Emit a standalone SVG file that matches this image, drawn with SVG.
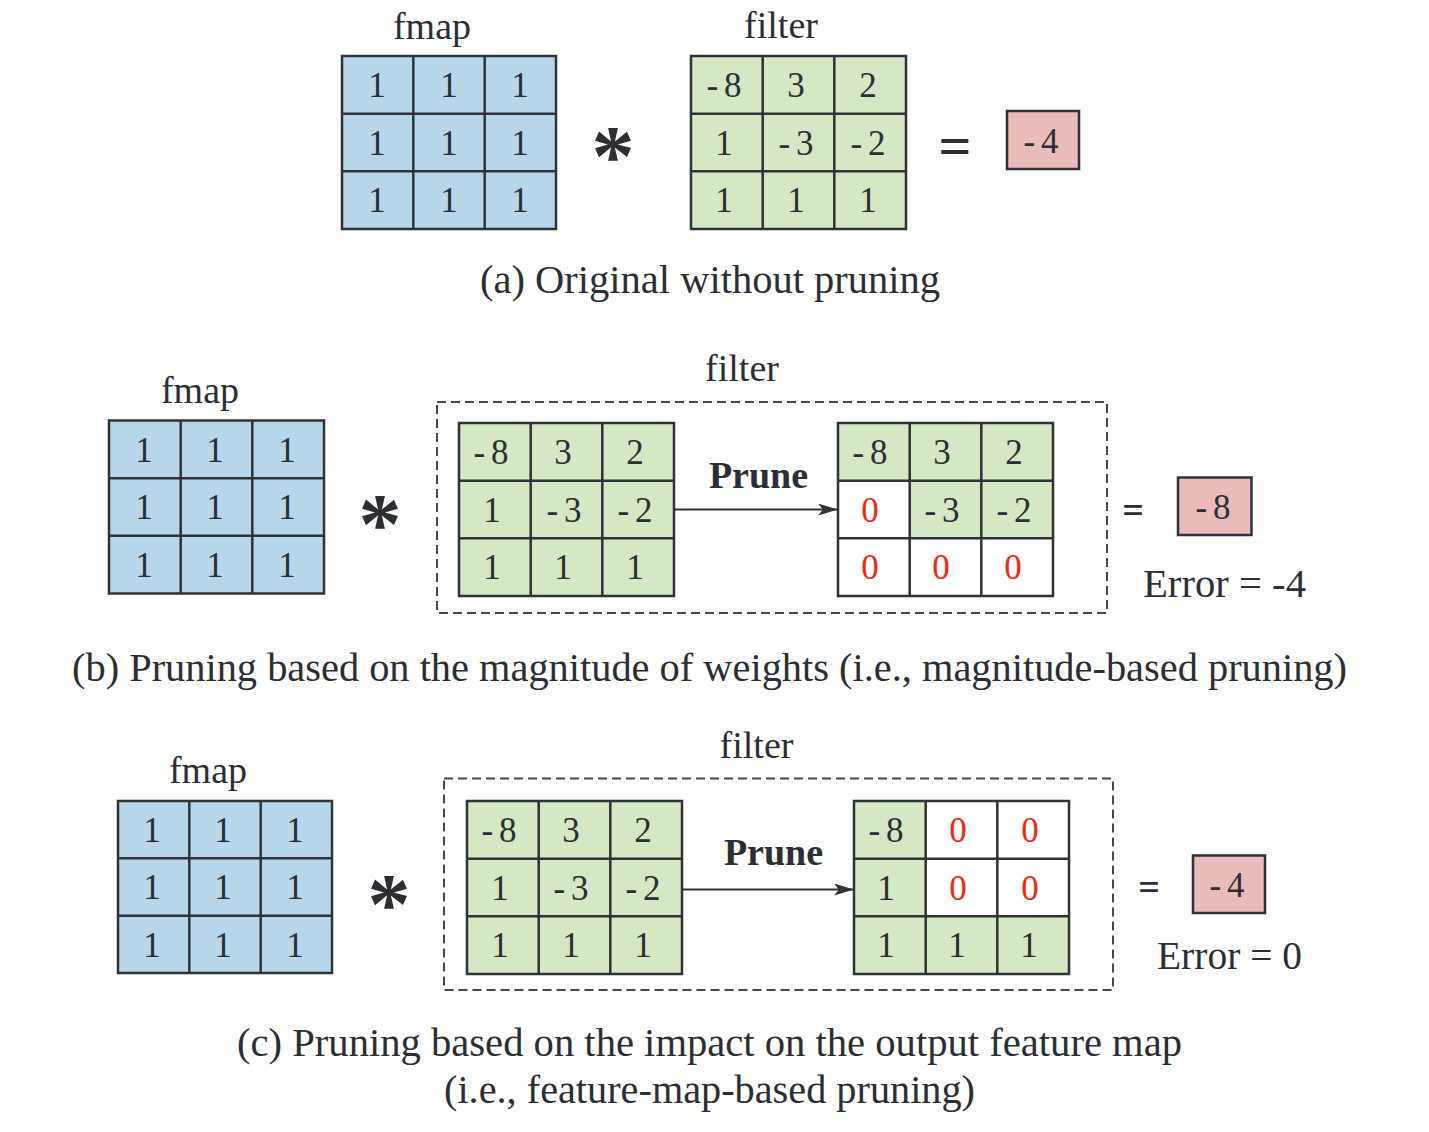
<svg xmlns="http://www.w3.org/2000/svg" width="1429" height="1132" viewBox="0 0 1429 1132">
<style>
text{font-family:"Liberation Serif","Times New Roman",serif;fill:#2b2e33}
.n{font-size:35px;text-anchor:middle}
.z{fill:#f5250f}
.lbl{font-size:38px;text-anchor:middle}
.cap{font-size:40px;text-anchor:middle}
.prune{font-size:38px;font-weight:bold;text-anchor:middle}
.err{font-size:39px}
.ast{font-size:86px;font-weight:bold;text-anchor:middle}
.eq{font-weight:bold;text-anchor:middle}
.b{fill:#b8d6ea}
.g{fill:#d5e7c4}
.w{fill:#ffffff}
.p{fill:#eabbbb}
.grid{fill:none;stroke:#2f3236;stroke-width:2.5}
.dash{fill:none;stroke:#45484c;stroke-width:2;stroke-dasharray:9 5}
.conn{stroke:#2f3236;stroke-width:2;fill:none}
</style>
<defs>
<marker id="ah" viewBox="0 0 20 12" refX="19" refY="6" markerWidth="20" markerHeight="12" markerUnits="userSpaceOnUse" orient="auto">
<path d="M0,0 L20,6 L0,12 L5,6 z" fill="#2f3236"/>
</marker>
</defs>

<!-- (a) -->
<g id="a-fmap">
<text class="lbl" x="432" y="39">fmap</text>
<rect class="b" x="342" y="56" width="214" height="173"/>
<path class="grid" d="M342,56h214v173h-214z M413.3,56v173 M484.7,56v173 M342,113.7h214 M342,171.3h214"/>
<text class="n" x="377" y="97">1</text><text class="n" x="449" y="97">1</text><text class="n" x="520" y="97">1</text>
<text class="n" x="377" y="155">1</text><text class="n" x="449" y="155">1</text><text class="n" x="520" y="155">1</text>
<text class="n" x="377" y="212">1</text><text class="n" x="449" y="212">1</text><text class="n" x="520" y="212">1</text>
</g>
<g id="a-op"><text class="ast" x="613" y="185">*</text></g>
<g id="a-filter">
<text class="lbl" x="781" y="38">filter</text>
<rect class="g" x="691" y="56" width="215" height="173"/>
<path class="grid" d="M691,56h215v173h-215z M762.7,56v173 M834.3,56v173 M691,113.7h215 M691,171.3h215"/>
<text class="n" x="724" y="97">-<tspan dx="6">8</tspan></text><text class="n" x="796" y="97">3</text><text class="n" x="868" y="97">2</text>
<text class="n" x="724" y="155">1</text><text class="n" x="796" y="155">-<tspan dx="6">3</tspan></text><text class="n" x="868" y="155">-<tspan dx="6">2</tspan></text>
<text class="n" x="724" y="212">1</text><text class="n" x="796" y="212">1</text><text class="n" x="868" y="212">1</text>
</g>
<g id="a-eq"><text class="eq" style="font-size:58px" x="955" y="165">=</text></g>
<g id="a-result">
<rect class="p" x="1007" y="111" width="72" height="58" stroke="#2f3236" stroke-width="2.5"/>
<text class="n" x="1041" y="153">-<tspan dx="6">4</tspan></text>
</g>
<text class="cap" x="710" y="293" textLength="460" lengthAdjust="spacingAndGlyphs">(a) Original without pruning</text>

<!-- (b) -->
<g id="b-fmap">
<text class="lbl" x="200" y="403">fmap</text>
<rect class="b" x="109" y="420.5" width="215" height="173"/>
<path class="grid" d="M109,420.5h215v173h-215z M180.7,420.5v173 M252.3,420.5v173 M109,478.2h215 M109,535.8h215"/>
<text class="n" x="144" y="462">1</text><text class="n" x="215" y="462">1</text><text class="n" x="287" y="462">1</text>
<text class="n" x="144" y="519">1</text><text class="n" x="215" y="519">1</text><text class="n" x="287" y="519">1</text>
<text class="n" x="144" y="577">1</text><text class="n" x="215" y="577">1</text><text class="n" x="287" y="577">1</text>
</g>
<g id="b-op"><text class="ast" x="380" y="553">*</text></g>
<g id="b-filter-box">
<text class="lbl" x="742" y="381">filter</text>
<rect class="dash" x="437" y="402" width="670" height="211"/>
</g>
<g id="b-filter">
<rect class="g" x="459" y="423" width="215" height="173"/>
<path class="grid" d="M459,423h215v173h-215z M530.7,423v173 M602.3,423v173 M459,480.7h215 M459,538.3h215"/>
<text class="n" x="491" y="464">-<tspan dx="6">8</tspan></text><text class="n" x="563" y="464">3</text><text class="n" x="635" y="464">2</text>
<text class="n" x="492" y="522">1</text><text class="n" x="564" y="522">-<tspan dx="6">3</tspan></text><text class="n" x="635" y="522">-<tspan dx="6">2</tspan></text>
<text class="n" x="492" y="579">1</text><text class="n" x="563" y="579">1</text><text class="n" x="635" y="579">1</text>
</g>
<g id="b-pruned">
<rect class="g" x="838" y="423" width="215" height="173"/>
<rect class="w" x="838" y="480.7" width="71.7" height="57.6"/>
<rect class="w" x="838" y="538.3" width="215" height="57.7"/>
<path class="grid" d="M838,423h215v173h-215z M909.7,423v173 M981.3,423v173 M838,480.7h215 M838,538.3h215"/>
<text class="n" x="870" y="464">-<tspan dx="6">8</tspan></text><text class="n" x="942" y="464">3</text><text class="n" x="1014" y="464">2</text>
<text class="n z" x="870" y="522">0</text><text class="n" x="942" y="522">-<tspan dx="6">3</tspan></text><text class="n" x="1014" y="522">-<tspan dx="6">2</tspan></text>
<text class="n z" x="870" y="579">0</text><text class="n z" x="941" y="579">0</text><text class="n z" x="1013" y="579">0</text>
</g>
<g id="b-eq"><text class="eq" style="font-size:38px" x="1133" y="523">=</text></g>
<g id="b-result">
<rect class="p" x="1178" y="477.5" width="73.5" height="57.5" stroke="#2f3236" stroke-width="2.5"/>
<text class="n" x="1213" y="519">-<tspan dx="6">8</tspan></text>
<text class="err" x="1143" y="597" textLength="163" lengthAdjust="spacingAndGlyphs">Error = -4</text>
</g>
<text class="cap" x="709.5" y="681" textLength="1275" lengthAdjust="spacingAndGlyphs">(b) Pruning based on the magnitude of weights (i.e., magnitude-based pruning)</text>

<!-- (c) -->
<g id="c-fmap">
<text class="lbl" x="208" y="783">fmap</text>
<rect class="b" x="118" y="801" width="214" height="172"/>
<path class="grid" d="M118,801h214v172h-214z M189.3,801v172 M260.7,801v172 M118,858.3h214 M118,915.7h214"/>
<text class="n" x="152" y="842">1</text><text class="n" x="223" y="842">1</text><text class="n" x="295" y="842">1</text>
<text class="n" x="152" y="899">1</text><text class="n" x="223" y="899">1</text><text class="n" x="295" y="899">1</text>
<text class="n" x="152" y="957">1</text><text class="n" x="223" y="957">1</text><text class="n" x="295" y="957">1</text>
</g>
<g id="c-op"><text class="ast" x="389" y="933">*</text></g>
<g id="c-filter-box">
<text class="lbl" x="756.5" y="758">filter</text>
<rect class="dash" x="444" y="778.5" width="669" height="211.5"/>
</g>
<g id="c-filter">
<rect class="g" x="467" y="801" width="215" height="173"/>
<path class="grid" d="M467,801h215v173h-215z M538.7,801v173 M610.3,801v173 M467,858.7h215 M467,916.3h215"/>
<text class="n" x="499" y="842">-<tspan dx="6">8</tspan></text><text class="n" x="571" y="842">3</text><text class="n" x="643" y="842">2</text>
<text class="n" x="500" y="900">1</text><text class="n" x="571" y="900">-<tspan dx="6">3</tspan></text><text class="n" x="643" y="900">-<tspan dx="6">2</tspan></text>
<text class="n" x="500" y="957">1</text><text class="n" x="571" y="957">1</text><text class="n" x="643" y="957">1</text>
</g>
<g id="c-pruned">
<rect class="g" x="854" y="801" width="215" height="173"/>
<rect class="w" x="925.7" y="801" width="143.3" height="115.3"/>
<path class="grid" d="M854,801h215v173h-215z M925.7,801v173 M997.3,801v173 M854,858.7h215 M854,916.3h215"/>
<text class="n" x="886" y="842">-<tspan dx="6">8</tspan></text><text class="n z" x="958" y="842">0</text><text class="n z" x="1030" y="842">0</text>
<text class="n" x="886" y="900">1</text><text class="n z" x="958" y="900">0</text><text class="n z" x="1030" y="900">0</text>
<text class="n" x="886" y="957">1</text><text class="n" x="957" y="957">1</text><text class="n" x="1029" y="957">1</text>
</g>
<g id="c-eq"><text class="eq" style="font-size:38px" x="1149" y="900">=</text></g>
<g id="c-result">
<rect class="p" x="1193" y="855.5" width="72" height="57.5" stroke="#2f3236" stroke-width="2.5"/>
<text class="n" x="1227" y="897">-<tspan dx="6">4</tspan></text>
<text class="err" x="1157" y="969" textLength="145" lengthAdjust="spacingAndGlyphs">Error = 0</text>
</g>
<text class="cap" x="709.5" y="1056" textLength="945" lengthAdjust="spacingAndGlyphs">(c) Pruning based on the impact on the output feature map</text>
<text class="cap" x="709.5" y="1103" textLength="531" lengthAdjust="spacingAndGlyphs">(i.e., feature-map-based pruning)</text>

<!-- connectors -->
<g id="connectors">
<line class="conn" x1="674" y1="509.5" x2="837" y2="509.5" marker-end="url(#ah)"/>
<text class="prune" x="758.5" y="488">Prune</text>
<line class="conn" x1="682" y1="889.5" x2="853" y2="889.5" marker-end="url(#ah)"/>
<text class="prune" x="773.5" y="865">Prune</text>
</g>
</svg>
